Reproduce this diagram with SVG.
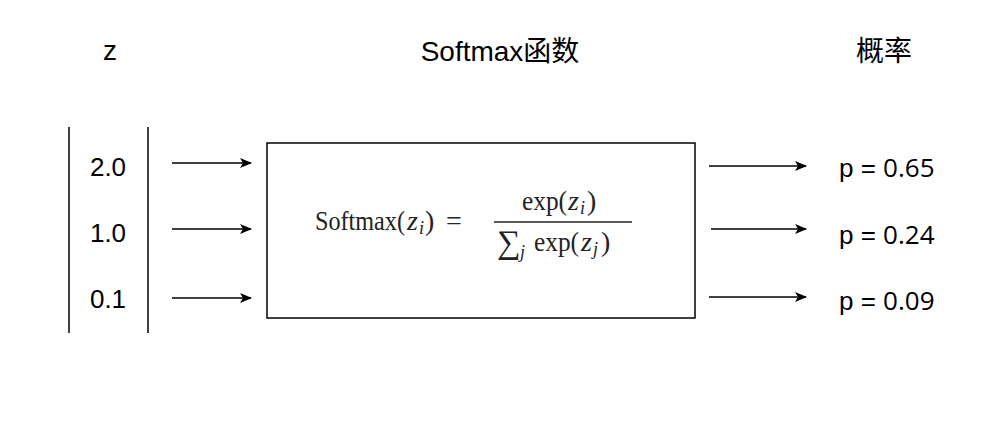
<svg xmlns="http://www.w3.org/2000/svg" width="1001" height="430" viewBox="0 0 1001 430">
<style>
.h{font-family:"Liberation Sans","Noto Sans CJK SC",sans-serif;font-size:28px;fill:#000}
.n{font-family:"Liberation Sans",sans-serif;font-size:26px;fill:#000}
.p{font-family:"Liberation Sans",sans-serif;font-size:26px;fill:#000}
.v{font-family:"Open Sans","Noto Sans",sans-serif;font-size:26px;fill:#000}
.m{font-family:"Liberation Serif",serif;font-size:28px;fill:#222}
.mi{font-style:italic}
.s{font-style:italic;font-size:18px}
.ln{stroke:#000;stroke-width:1.5;fill:none}
.ar{stroke:#000;stroke-width:1.5;fill:none;marker-end:url(#ah)}
</style>
<defs>
<marker id="ah" markerWidth="12" markerHeight="10" refX="11" refY="5" orient="auto" markerUnits="userSpaceOnUse">
<path d="M0,0 L12,5 L0,10 L3,5 Z" fill="#000"/>
</marker>
</defs>
<rect width="1001" height="430" fill="#fff"/>
<g id="headers">
<text class="h" x="110" y="60" text-anchor="middle">z</text>
<text class="h" x="500" y="61" text-anchor="middle">Softmax函数</text>
<text class="h" x="884" y="61" text-anchor="middle">概率</text>
</g>
<g id="input-vector">
<line class="ln" x1="69" y1="127" x2="69" y2="333"/>
<line class="ln" x1="148" y1="127" x2="148" y2="333"/>
<text class="n" x="108" y="176" text-anchor="middle">2.0</text>
<text class="n" x="108" y="242" text-anchor="middle">1.0</text>
<text class="n" x="108" y="308" text-anchor="middle">0.1</text>
</g>
<g id="softmax-box">
<rect x="267" y="143" width="428" height="175" fill="#fff" stroke="#000" stroke-width="1.5"/>
<text class="m" y="230"><tspan x="315" textLength="90" lengthAdjust="spacingAndGlyphs">Softmax(</tspan><tspan class="mi" x="407">z</tspan><tspan class="s" x="419" y="234">i</tspan><tspan x="425" y="230">)</tspan><tspan x="446">=</tspan></text>
<text class="m" y="210"><tspan x="522" textLength="45" lengthAdjust="spacingAndGlyphs">exp(</tspan><tspan class="mi" x="568">z</tspan><tspan class="s" x="580" y="214">i</tspan><tspan x="587" y="210">)</tspan></text>
<line x1="494" y1="222" x2="632" y2="222" stroke="#222" stroke-width="1.3"/>
<text class="m" y="253"><tspan x="497" font-size="33">∑</tspan><tspan class="s" x="520" y="258">j</tspan><tspan x="534" y="251" textLength="45" lengthAdjust="spacingAndGlyphs">exp(</tspan><tspan class="mi" x="581">z</tspan><tspan class="s" x="593" y="255">j</tspan><tspan x="601" y="251">)</tspan></text>
</g>
<g id="outputs">
<text x="839" y="177"><tspan class="p">p = </tspan><tspan class="v">0.65</tspan></text>
<text x="839" y="244"><tspan class="p">p = </tspan><tspan class="v">0.24</tspan></text>
<text x="839" y="310"><tspan class="p">p = </tspan><tspan class="v">0.09</tspan></text>
</g>
<g id="connectors">
<line class="ar" x1="172" y1="163" x2="251" y2="163"/>
<line class="ar" x1="172" y1="229" x2="251" y2="229"/>
<line class="ar" x1="172" y1="298" x2="251" y2="298"/>
<line class="ar" x1="709" y1="166" x2="806" y2="166"/>
<line class="ar" x1="711" y1="229" x2="806" y2="229"/>
<line class="ar" x1="709" y1="297" x2="806" y2="297"/>
</g>
</svg>
